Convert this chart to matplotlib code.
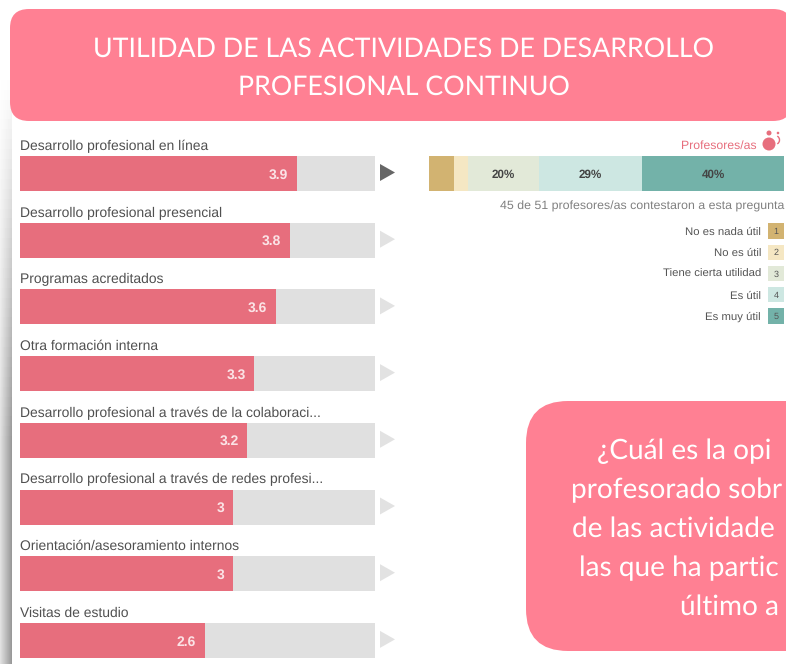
import matplotlib
matplotlib.use('Agg')
import matplotlib.pyplot as plt
from matplotlib.patches import FancyBboxPatch, Rectangle, Polygon, Circle, Arc
import numpy as np

W, H = 786, 664

activities = ['Desarrollo profesional en línea', 'Desarrollo profesional presencial',
              'Programas acreditados', 'Otra formación interna',
              'Desarrollo profesional a través de la colaboraci...',
              'Desarrollo profesional a través de redes profesi...',
              'Orientación/asesoramiento internos', 'Visitas de estudio']
scores = [3.9, 3.8, 3.6, 3.3, 3.2, 3.0, 3.0, 2.6]
score_labels = ['3.9', '3.8', '3.6', '3.3', '3.2', '3', '3', '2.6']

shares = [7, 4, 20, 29, 40]
share_labels = ['', '', '20%', '29%', '40%']
share_colors = ['#d2b371', '#f5e7c3', '#e2e9d8', '#cde7e2', '#73b2a9']
legend_labels = ['No es nada útil', 'No es útil', 'Tiene cierta utilidad', 'Es útil', 'Es muy útil']

# lo que se ve de la caja, que en la imagen queda cortada por la derecha
question = ['¿Cuál es la opi', 'profesorado sobr', 'de las actividade', 'las que ha partic', 'último a']
q_left = [597, 571, 572, 579, 680]

PINK = '#ff8093'
BAR = '#e76e7d'
ARIAL = 'Liberation Sans'

plt.rcParams['text.hinting'] = 'none'

fig = plt.figure(figsize=(W / 100, H / 100), dpi=100, facecolor='white')

# lienzo en pixeles para las cajas y el texto suelto
bg = fig.add_axes([0, 0, 1, 1])
bg.axis('off')

# sombra a la izquierda, mas oscura junto a la pagina y se apaga hacia arriba
across = np.linspace(0.88, 0.6, 12)
down = np.clip(np.linspace(0, 1.6, 60), 0, 1)
shade = 1 - np.outer(down, 1 - across)
bg.imshow(shade, extent=(0, 12, H, 70), cmap='gray', vmin=0, vmax=1, aspect='auto', zorder=1)
bg.set_xlim(0, W)
bg.set_ylim(H, 0)

bg.add_patch(FancyBboxPatch((10, 9), 782, 112, boxstyle='round,pad=0,rounding_size=19',
                            fc=PINK, ec='none', zorder=2))
bg.text(404, 57, 'UTILIDAD DE LAS ACTIVIDADES DE DESARROLLO', color='white', family='Lato',
        fontsize=19.3, ha='center', va='baseline', zorder=3)
bg.text(404, 95, 'PROFESIONAL CONTINUO', color='white', family='Lato',
        fontsize=19.3, ha='center', va='baseline', zorder=3)

bg.add_patch(FancyBboxPatch((526, 401), 400, 250, boxstyle='round,pad=0,rounding_size=42',
                            fc=PINK, ec='none', zorder=2))
for k, line in enumerate(question):
    bg.text(q_left[k], 459 + k * 39, line, color='white', family='Lato',
            fontsize=20.2, ha='left', va='baseline', zorder=3)

# barras de puntuacion
bar_top = 156
step = 66.7
bar_h = 35
n = len(scores)
ax = fig.add_axes([20 / W, 0, 355 / W, 1])
ax.set_xlim(0, 5)
ax.set_ylim((H - bar_top) / step, -bar_top / step)
ax.axis('off')
ypos = np.arange(n) + bar_h / step / 2
ax.barh(ypos, [5] * n, height=bar_h / step, color='#e0e0e0', zorder=1)
ax.barh(ypos, scores, height=bar_h / step, color=BAR, zorder=2)
for y, s, lab, name in zip(ypos, scores, score_labels, activities):
    ax.text(s - 0.12, y + 5 / step, lab, color='#fbe3e6', family=ARIAL, fontsize=10, fontweight='bold',
            ha='right', va='baseline', zorder=3)
    ax.text(0, y - bar_h / step / 2 - 6 / step, name, color='#505050', family=ARIAL, fontsize=10,
            ha='left', va='baseline', zorder=3, clip_on=False)

# flechas
for k in range(n):
    top = bar_top + k * step
    col = '#666666' if k == 0 else '#e2e2e2'
    bg.add_patch(Polygon([(380, top + 8), (395, top + 16.5), (380, top + 25)], fc=col, ec='none', zorder=3))

# barra apilada
ax2 = fig.add_axes([429 / W, 1 - 191 / H, 355 / W, 35 / H])
ax2.set_xlim(0, 100)
ax2.set_ylim(0, 1)
ax2.axis('off')
left = 0
for v, lab, c in zip(shares, share_labels, share_colors):
    ax2.barh(0.5, v, left=left, height=1, color=c)
    if lab:
        ax2.text(left + v / 2, 0.37, lab, color='#444444', family=ARIAL, fontsize=8.4,
                 fontweight='bold', ha='center', va='baseline')
    left += v

bg.text(757, 149, 'Profesores/as', color=BAR, family=ARIAL, fontsize=8.8, ha='right', va='baseline', zorder=3)
bg.add_patch(Circle((769, 144), 6.5, fc=BAR, ec='none', zorder=3))
bg.add_patch(Circle((769, 133), 2.5, fc=BAR, ec='none', zorder=3))
bg.add_patch(Circle((778, 133), 1.3, fc=BAR, ec='none', zorder=3))
bg.add_patch(Arc((775, 140), 9, 9, theta1=-60, theta2=60, ec=BAR, lw=1, zorder=3))
bg.text(784, 210, '45 de 51 profesores/as contestaron a esta pregunta', color='#808080',
        family=ARIAL, fontsize=8.9, ha='right', va='baseline', zorder=3)

# leyenda
for k, (lab, c) in enumerate(zip(legend_labels, share_colors)):
    yc = 231 + k * 21.25
    bg.add_patch(Rectangle((768, yc - 7.7), 16, 15.4, fc=c, ec='none', zorder=3))
    bg.text(776, yc + 3, str(k + 1), color='#555555', family=ARIAL, fontsize=6.5, ha='center', va='baseline', zorder=4)
    bg.text(761, yc + 3.7, lab, color='#555555', family=ARIAL, fontsize=8.2, ha='right', va='baseline', zorder=3)

fig.savefig('out.png', dpi=100)
